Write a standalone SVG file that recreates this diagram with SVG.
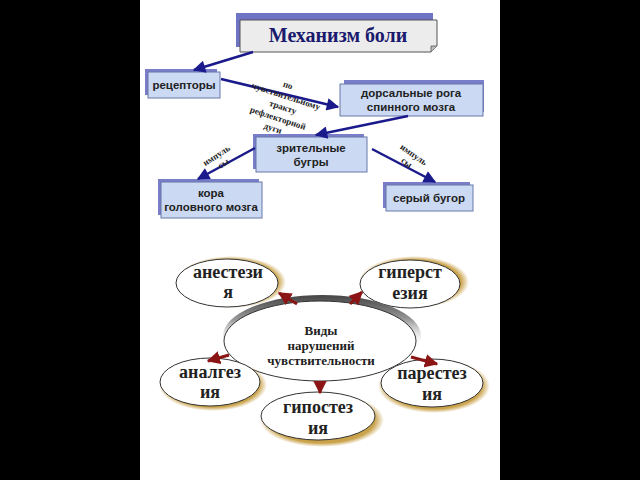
<svg xmlns="http://www.w3.org/2000/svg" width="640" height="480" viewBox="0 0 640 480">
<defs>
<marker id="ab" viewBox="0 0 10 10" refX="9" refY="5" markerWidth="6" markerHeight="5" orient="auto" markerUnits="strokeWidth"><path d="M0,0 L10,5 L0,10 z" fill="#1a1a8c"/></marker>
<marker id="ar" viewBox="0 0 10 10" refX="9" refY="5" markerWidth="4.5" markerHeight="4.5" orient="auto" markerUnits="strokeWidth"><path d="M0,0 L10,5 L0,10 z" fill="#8b1414"/></marker>
<radialGradient id="gold" cx="0.5" cy="0.5" r="0.5"><stop offset="0.85" stop-color="#c9a24a"/><stop offset="1" stop-color="#c9a24a" stop-opacity="0"/></radialGradient>
<linearGradient id="cshadow" x1="0" y1="0" x2="0" y2="1"><stop offset="0" stop-color="#444"/><stop offset="0.3" stop-color="#999"/><stop offset="0.6" stop-color="#ddd" stop-opacity="0"/></linearGradient>
</defs>
<style>
.box{fill:#cbd9f3;stroke:#6677aa;stroke-width:1}
.sh{fill:#7a7ec8}
.bt{font-family:"Liberation Sans",Arial,sans-serif;font-weight:bold;font-size:11.5px;fill:#222;text-anchor:middle}
.lt{font-family:"Liberation Serif","Times New Roman",serif;font-weight:bold;font-size:9px;fill:#222;text-anchor:middle}
.bl{stroke:#1a1a8c;stroke-width:2.5;fill:none;marker-end:url(#ab)}
.rd{stroke:#8b1414;stroke-width:3;fill:none;marker-end:url(#ar)}
.el{fill:#fff;stroke:#333;stroke-width:1}
.et{font-family:"Liberation Serif","Times New Roman",serif;font-weight:bold;font-size:18px;fill:#222;text-anchor:middle}
.ct{font-family:"Liberation Serif","Times New Roman",serif;font-weight:bold;font-size:13px;fill:#222;text-anchor:middle}
</style>
<rect x="0" y="0" width="640" height="480" fill="#000"/>
<rect x="140" y="0" width="360" height="480" fill="#fff"/>

<g id="title">
<rect x="236" y="13" width="197" height="34" fill="#6f73c4"/>
<path d="M240,20 L437,20 L437,46 L431,52 L240,52 z" fill="#ececec" stroke="#555" stroke-width="1"/>
<path d="M437,46 L431,46 L431,52" fill="#bbb" stroke="#555" stroke-width="0.8"/>
<text x="338" y="42" font-family="Liberation Serif,'Times New Roman',serif" font-weight="bold" font-size="20" fill="#1a1a6e" text-anchor="middle">Механизм боли</text>
</g>

<g id="receptors">
<rect class="sh" x="145" y="69" width="72" height="26"/>
<rect class="box" x="148" y="72" width="72" height="26"/>
<text class="bt" x="184" y="89">рецепторы</text>
</g>

<g id="dorsal">
<rect class="sh" x="344" y="80" width="140" height="32"/>
<rect class="box" x="340" y="84" width="143" height="32"/>
<text class="bt" x="411" y="97">дорсальные рога</text>
<text class="bt" x="411" y="111">спинного мозга</text>
</g>

<g id="thalamus">
<rect class="sh" x="253" y="134" width="111" height="35"/>
<rect class="box" x="256" y="137" width="111" height="35"/>
<text class="bt" x="311" y="152">зрительные</text>
<text class="bt" x="311" y="166">бугры</text>
</g>

<g id="cortex">
<rect class="sh" x="158" y="179" width="101" height="36"/>
<rect class="box" x="161" y="182" width="101" height="36"/>
<text class="bt" x="211" y="197">кора</text>
<text class="bt" x="211" y="211">головного мозга</text>
</g>

<g id="grey">
<rect class="sh" x="383" y="182" width="87" height="26"/>
<rect class="box" x="386" y="185" width="87" height="26"/>
<text class="bt" x="429" y="202">серый бугор</text>
</g>

<g id="anesthesia">
<ellipse cx="231" cy="282" rx="55" ry="26" fill="url(#gold)"/>
<ellipse class="el" cx="227" cy="283" rx="51" ry="24"/>
<text class="et" x="228" y="278">анестези</text>
<text class="et" x="228" y="298">я</text>
</g>

<g id="hyperesthesia">
<ellipse cx="414" cy="282" rx="55" ry="26" fill="url(#gold)"/>
<ellipse class="el" cx="410" cy="284" rx="50" ry="24"/>
<text class="et" x="410" y="278">гиперст</text>
<text class="et" x="410" y="299">езия</text>
</g>

<g id="center">
<ellipse cx="322" cy="336" rx="99" ry="41" fill="url(#cshadow)"/>
<ellipse class="el" cx="320" cy="341" rx="96" ry="40"/>
<text class="ct" x="321" y="335">Виды</text>
<text class="ct" x="321" y="350">нарушений</text>
<text class="ct" x="321" y="365">чувствительности</text>
</g>

<g id="analgesia">
<ellipse cx="213" cy="385" rx="54" ry="26" fill="url(#gold)"/>
<ellipse class="el" cx="210" cy="382" rx="50" ry="24"/>
<text class="et" x="210" y="378">аналгез</text>
<text class="et" x="210" y="398">ия</text>
</g>

<g id="hypoesthesia">
<ellipse cx="322" cy="420" rx="62" ry="27" fill="url(#gold)"/>
<ellipse class="el" cx="318" cy="416" rx="57" ry="24"/>
<text class="et" x="318" y="413">гипостез</text>
<text class="et" x="318" y="434">ия</text>
</g>

<g id="paresthesia">
<ellipse cx="434" cy="386" rx="56" ry="27" fill="url(#gold)"/>
<ellipse class="el" cx="432" cy="383" rx="51" ry="24"/>
<text class="et" x="432" y="379">парестез</text>
<text class="et" x="432" y="400">ия</text>
</g>

<g id="connectors">
<path class="bl" d="M253,52 L194,70"/>
<path class="bl" d="M221,79 L338,107"/>
<path class="bl" d="M408,116 L316,135"/>
<path class="bl" d="M255,148 L198,179"/>
<path class="bl" d="M372,149 L435,182"/>
<path class="rd" d="M297,304 L279,293"/>
<path class="rd" d="M350,304 L362,292"/>
<path class="rd" d="M229,355 L208,361"/>
<path class="rd" d="M320,381 L320,393"/>
<path class="rd" d="M411,357 L437,364"/>
<text class="lt" transform="translate(287,88) rotate(18)">по</text>
<text class="lt" transform="translate(285,99) rotate(18)">чувствительному</text>
<text class="lt" transform="translate(282,110) rotate(18)">тракту</text>
<text class="lt" transform="translate(277,121) rotate(18)">рефлекторной</text>
<text class="lt" transform="translate(272,131) rotate(18)">дуги</text>
<text class="lt" transform="translate(218,158) rotate(-33)">импуль</text>
<text class="lt" transform="translate(225,166) rotate(-33)">сы</text>
<text class="lt" transform="translate(412,157) rotate(35)">импуль</text>
<text class="lt" transform="translate(405,165) rotate(35)">сы</text>
</g>
</svg>
